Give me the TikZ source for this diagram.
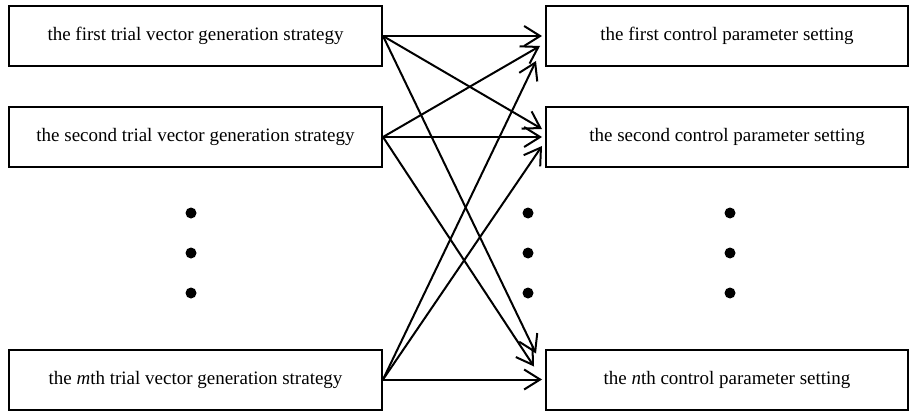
\documentclass[tikz,border=0pt]{standalone}
\usepackage{fontspec}
\setmainfont{Liberation Serif}
\usetikzlibrary{arrows.meta}
\begin{document}
\begin{tikzpicture}[x=1pt,y=-1pt,
  box/.style={draw, line width=2pt, inner sep=0pt, minimum height=60pt,
    font=\fontsize{19}{22}\selectfont},
  lbox/.style={box, minimum width=373pt},
  rbox/.style={box, minimum width=362pt},
  conn/.style={line width=2pt, -{Straight Barb[length=16pt,width=20pt,line width=2pt]}},
  bigdot/.style={circle, fill, inner sep=0pt, minimum size=11pt}]
\useasboundingbox (0,0) rectangle (910,412);
% left boxes
\node[lbox] (L1) at (195.5,36) {the first trial vector generation strategy};
\node[lbox] (L2) at (195.5,137) {the second trial vector generation strategy};
\node[lbox] (Lm) at (195.5,379.5) {the \textit{m}th trial vector generation strategy};
% right boxes
\node[rbox] (R1) at (727,36) {the first control parameter setting};
\node[rbox] (R2) at (727,137) {the second control parameter setting};
\node[rbox] (Rn) at (727,379.5) {the \textit{n}th control parameter setting};
% dots
\foreach \x/\c in {191/a,528/b,730/c}{
  \foreach \y/\r in {213/1,253/2,293/3}{
    \node[bigdot] (d\c\r) at (\x,\y) {};
  }
}
% arrow end points
\coordinate (t11) at ([shift={(-3,0)}]R1.west);
\coordinate (t21) at ([shift={(-5,10)}]R1.west);
\coordinate (tm1) at ([shift={(-9,25)}]R1.west);
\coordinate (t12) at ([shift={(-3,-8)}]R2.west);
\coordinate (t22) at ([shift={(-3,0)}]R2.west);
\coordinate (tm2) at ([shift={(-3,9)}]R2.west);
\coordinate (t1n) at ([shift={(-9,-26)}]Rn.west);
\coordinate (t2n) at ([shift={(-11,-13)}]Rn.west);
\coordinate (tmn) at ([shift={(-3,0)}]Rn.west);
% connectors
\draw[conn] (L1.east) -- (t11);
\draw[conn] (L1.east) -- (t12);
\draw[conn] (L1.east) -- (t1n);
\draw[conn] (L2.east) -- (t21);
\draw[conn] (L2.east) -- (t22);
\draw[conn] (L2.east) -- (t2n);
\draw[conn] (Lm.east) -- (tm1);
\draw[conn] (Lm.east) -- (tm2);
\draw[conn] (Lm.east) -- (tmn);
\end{tikzpicture}
\end{document}
